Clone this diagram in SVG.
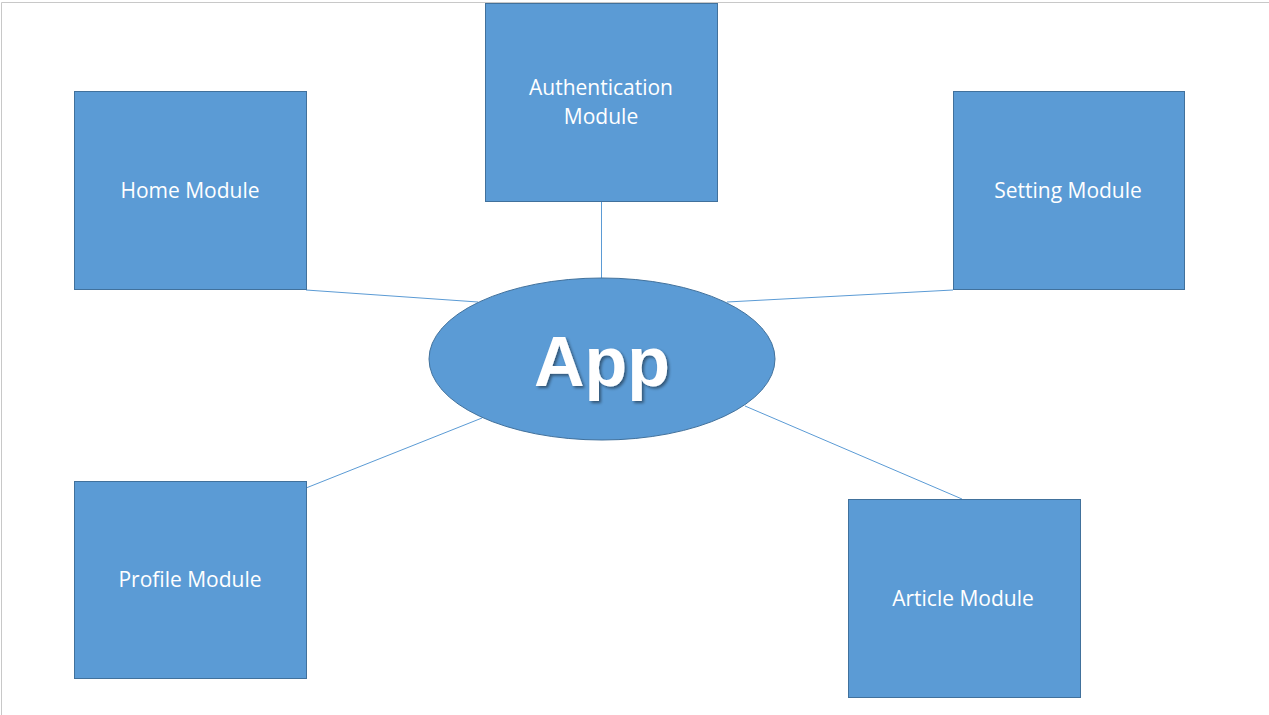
<svg xmlns="http://www.w3.org/2000/svg" width="1269" height="715" viewBox="0 0 1269 715">
<style>
.node{fill:#5B9BD5;stroke:#41719C;stroke-width:1}
.lbl{font-family:"Open Sans","Liberation Sans",sans-serif;font-size:21px;fill:#ffffff;text-anchor:middle}
.app{font-family:"Liberation Sans",Arial,sans-serif;font-weight:bold;font-size:70px;fill:#ffffff;text-anchor:middle}
.conn line{stroke:#5B9BD5;stroke-width:1}
</style>
<defs>
<filter id="sh" x="-20%" y="-20%" width="140%" height="140%">
<feDropShadow dx="2" dy="2" stdDeviation="1.5" flood-color="#000000" flood-opacity="0.45"/>
</filter>
</defs>
<rect x="0" y="0" width="1269" height="715" fill="#ffffff"/>
<path d="M1.5 715 V2.5 H1269" fill="none" stroke="#c8c8c8" stroke-width="1"/>
<g id="connectors" class="conn">
<line x1="306" y1="290" x2="478" y2="302"/>
<line x1="601.5" y1="201" x2="601.5" y2="278"/>
<line x1="953" y1="290" x2="727" y2="302"/>
<line x1="306" y1="488" x2="482" y2="418"/>
<line x1="962" y1="499" x2="745" y2="406"/>
</g>
<g id="app">
<ellipse class="node" cx="602" cy="359" rx="173" ry="81"/>
<text class="app" x="602" y="386" filter="url(#sh)">App</text>
</g>
<g id="home">
<rect class="node" x="74.5" y="91.5" width="232" height="198"/>
<text class="lbl" x="190" y="198">Home Module</text>
</g>
<g id="auth">
<rect class="node" x="485.5" y="3.5" width="232" height="198"/>
<text class="lbl" x="601" y="95">Authentication</text>
<text class="lbl" x="601" y="124">Module</text>
</g>
<g id="setting">
<rect class="node" x="953.5" y="91.5" width="231" height="198"/>
<text class="lbl" x="1068" y="198">Setting Module</text>
</g>
<g id="profile">
<rect class="node" x="74.5" y="481.5" width="232" height="197"/>
<text class="lbl" x="190" y="587">Profile Module</text>
</g>
<g id="article">
<rect class="node" x="848.5" y="499.5" width="232" height="198"/>
<text class="lbl" x="963" y="606">Article Module</text>
</g>
</svg>
